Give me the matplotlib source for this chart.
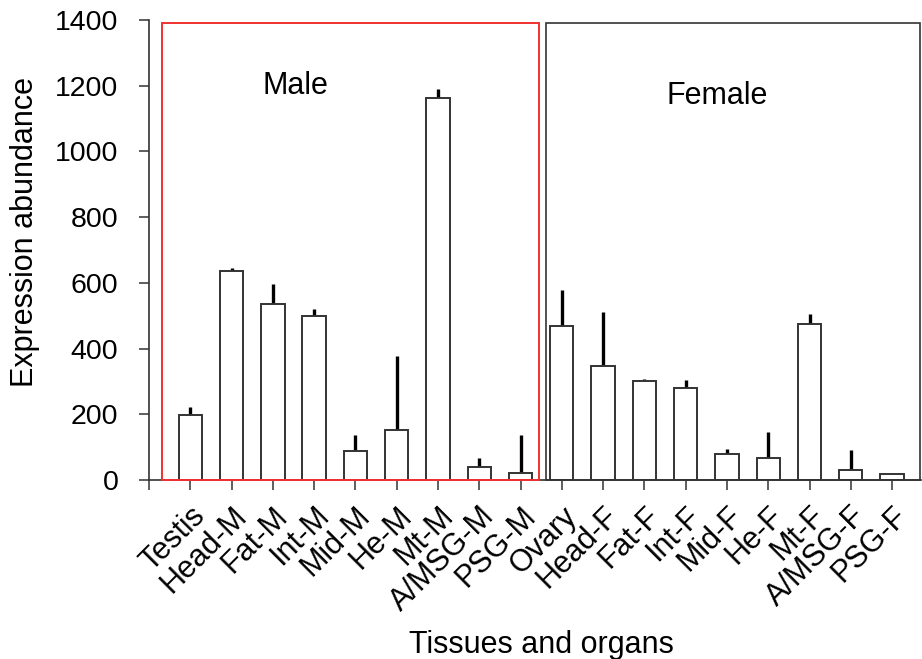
import numpy as np
import matplotlib
matplotlib.use('Agg')
import matplotlib.pyplot as plt
from matplotlib.patches import Rectangle

# Expression abundance per tissue (mean and upper error)
tissues = ['Testis', 'Head-M', 'Fat-M', 'Int-M', 'Mid-M', 'He-M', 'Mt-M', 'A/MSG-M', 'PSG-M',
           'Ovary', 'Head-F', 'Fat-F', 'Int-F', 'Mid-F', 'He-F', 'Mt-F', 'A/MSG-F', 'PSG-F']
means = [199, 635, 536, 499, 87, 152, 1163, 41, 21,
         468, 346, 302, 281, 80, 67, 475, 31, 19]
errors = [23, 10, 62, 22, 49, 224, 26, 27, 117,
          109, 165, 4, 24, 13, 79, 29, 60, 0]
y_ticks = [0, 200, 400, 600, 800, 1000, 1200, 1400]

plt.rcParams['font.family'] = ['Liberation Sans', 'DejaVu Sans']

fig = plt.figure(figsize=(9.22, 6.59), dpi=100)
ax = fig.add_axes([0.1616, 0.2716, 0.8373, 0.6980])

x = np.arange(len(tissues))
edge = '#333333'
ax.bar(x, means, width=0.565, color='white', edgecolor=edge, linewidth=1.4, zorder=2)
ax.errorbar(x, means, yerr=[np.zeros(len(errors)), errors], fmt='none',
            ecolor='black', elinewidth=2.4, capsize=0, zorder=1)

# group boxes
ax.add_patch(Rectangle((-0.68, 0), 9.12, 1392, fill=False, edgecolor='#f03030',
                       linewidth=1.4, zorder=3, clip_on=False))
ax.add_patch(Rectangle((8.62, 0), 9.06, 1392, fill=False, edgecolor=edge,
                       linewidth=1.2, zorder=3, clip_on=False))
ax.text(2.55, 1199, 'Male', fontsize=22, ha='center', va='center')
ax.text(12.77, 1169, 'Female', fontsize=22, ha='center', va='center')

ax.set_xlim(-1, 17.7)
ax.set_ylim(0, 1400)
ax.set_yticks(y_ticks)
ax.set_xticks(np.arange(-1, len(tissues)))
ax.set_xticklabels([''] + tissues, rotation=45, ha='right', rotation_mode='anchor',
                   fontsize=22)
ax.tick_params(axis='both', direction='out', length=7, width=1.1, color=edge)
ax.tick_params(axis='y', labelsize=20.5, pad=15)
ax.tick_params(axis='x', pad=8)

for s in ['top', 'right']:
    ax.spines[s].set_visible(False)
for s in ['left', 'bottom']:
    ax.spines[s].set_color(edge)
    ax.spines[s].set_linewidth(1.2)

ax.set_ylabel('Expression abundance', fontsize=22)
ax.yaxis.set_label_coords(-0.161, 0.539)
ax.yaxis.label.set_va('center')
ax.set_xlabel('Tissues and organs', fontsize=22)
ax.xaxis.label.set_va('baseline')
ax.xaxis.set_label_coords(0.508, -0.376)

fig.savefig('out.png', dpi=100)
